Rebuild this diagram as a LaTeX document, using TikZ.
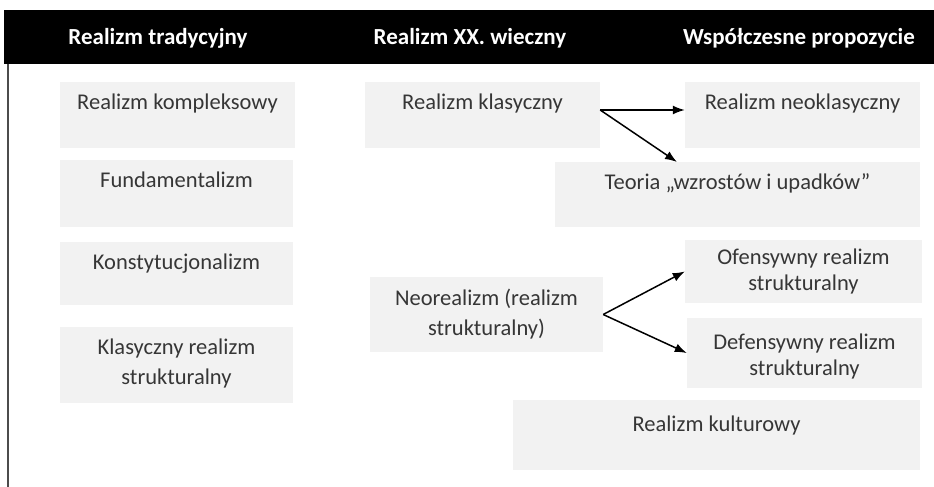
\documentclass[tikz,border=0pt]{standalone}
\usepackage{fontspec}
\setmainfont{Carlito}
\usepackage{tikz}
\usetikzlibrary{arrows.meta}

\definecolor{boxgray}{HTML}{F2F2F2}
\definecolor{txtgray}{HTML}{363636}

\begin{document}
\begin{tikzpicture}[x=1pt, y=-1pt,
    cell/.style={fill=boxgray, draw=none, inner sep=0pt},
    celltext/.style={anchor=north, inner sep=0pt, yshift=-12pt, align=center, text=txtgray,
        font=\fontsize{22.5}{30}\selectfont},
    head/.style={text=white, font=\bfseries\fontsize{23}{27}\selectfont},
    link/.style={-{Latex[length=12pt, width=9pt]}, line width=1.5pt}]
    \useasboundingbox (0,0) rectangle (934,487);

    % Header bar and left rule
    \fill[black] (4,10) rectangle (934,64);
    \draw[line width=1.8pt, black!70] (8,64) -- (8,487);
    \node[head] (hleft) at (158,38) {Realizm tradycyjny};
    \node[head] (hmid) at (470,38) {Realizm XX. wieczny};
    \node[head] (hright) at (799,38) {Współczesne propozycie};

    % Column 1: traditional realism
    \node[cell, minimum width=235pt, minimum height=66pt] (kompleks) at (177.5,115) {};
    \node[celltext] at (kompleks.north) {Realizm kompleksowy};
    \node[cell, minimum width=233pt, minimum height=67pt] (fundam) at (176.5,193.5) {};
    \node[celltext] at (fundam.north) {Fundamentalizm};
    \node[cell, minimum width=233pt, minimum height=63pt] (konst) at (176.5,273.5) {};
    \node[celltext] at (konst.north) {Konstytucjonalizm};
    \node[cell, minimum width=233pt, minimum height=76pt] (klasstr) at (176.5,365) {};
    \node[celltext] at (klasstr.north) {Klasyczny realizm\\strukturalny};

    % Column 2: 20th century realism
    \node[cell, minimum width=235pt, minimum height=66pt] (klasyczny) at (482.5,115) {};
    \node[celltext] at (klasyczny.north) {Realizm klasyczny};
    \node[cell, minimum width=233pt, minimum height=75pt] (neoreal) at (486.5,314.5) {};
    \node[celltext] at (neoreal.north) {Neorealizm (realizm\\strukturalny)};

    % Column 3: contemporary proposals
    \node[cell, minimum width=235pt, minimum height=66pt] (neoklas) at (802.5,115) {};
    \node[celltext] at (neoklas.north) {Realizm neoklasyczny};
    \node[cell, minimum width=365pt, minimum height=65pt] (teoria) at (737.5,194.5) {};
    \node[celltext] at (teoria.north) {Teoria „wzrostów i upadków”};
    \node[cell, minimum width=237pt, minimum height=63pt] (ofens) at (803.5,271.5) {};
    \node[celltext, yshift=3pt, font=\fontsize{22.5}{26}\selectfont] at (ofens.north) {Ofensywny realizm\\strukturalny};
    \node[cell, minimum width=235pt, minimum height=70pt] (defens) at (804.5,353) {};
    \node[celltext, yshift=-4pt, font=\fontsize{22.5}{26}\selectfont] at (defens.north) {Defensywny realizm\\strukturalny};
    \node[cell, minimum width=407pt, minimum height=70pt] (kultur) at (716.5,435) {};
    \node[celltext, yshift=-4pt] at (kultur.north) {Realizm kulturowy};

    % Arrows
    \coordinate (tipteoria) at (677,162);
    \draw[link] ([yshift=5pt]klasyczny.east) -- ([yshift=5pt]neoklas.west);
    \draw[link] ([yshift=5pt]klasyczny.east) -- (tipteoria);
    \draw[link] (neoreal.east) -- (ofens.west);
    \draw[link] (neoreal.east) -- (defens.west);
\end{tikzpicture}
\end{document}
